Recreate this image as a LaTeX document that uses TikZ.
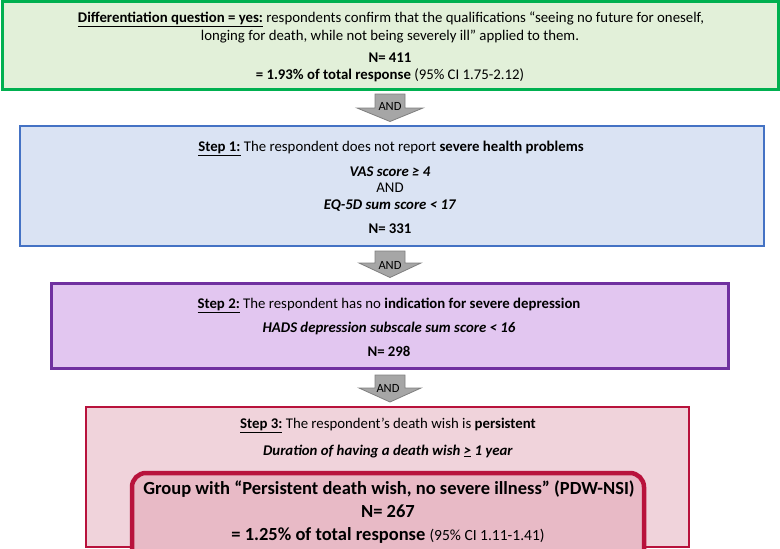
\documentclass[tikz,border=0pt]{standalone}
\usepackage{fontspec}
\setmainfont{Carlito}
\definecolor{gbord}{HTML}{00B050}
\definecolor{gfill}{HTML}{E2F0D9}
\definecolor{bbord}{HTML}{4472C4}
\definecolor{bfill}{HTML}{DAE3F3}
\definecolor{pbord}{HTML}{7030A0}
\definecolor{pfill}{HTML}{E2C6F0}
\definecolor{rbord}{HTML}{B8123C}
\definecolor{rfill}{HTML}{F0D3DB}
\definecolor{rinner}{HTML}{E8BAC6}
\definecolor{afill}{HTML}{A6A6A6}
\definecolor{abord}{HTML}{7F7F7F}
\tikzset{
  box/.style={draw, rectangle, inner sep=0pt},
  txt/.style={inner sep=0pt, anchor=base, font=\fontsize{14.8}{17}\selectfont},
  big/.style={inner sep=0pt, anchor=base, font=\fontsize{18.5}{21}\selectfont\bfseries},
  andtxt/.style={inner sep=0pt, anchor=base, font=\fontsize{12.5}{14}\selectfont},
  garrow/.style={fill=afill, draw=abord, line width=0.8pt, line join=miter},
}
\newcommand{\ul}[1]{\underline{#1}}
\begin{document}
\begin{tikzpicture}[x=1pt,y=-1pt]
\useasboundingbox (0,0) rectangle (780,549);
% boxes
\node[box, draw=gbord, fill=gfill, line width=3pt, minimum width=776pt, minimum height=88pt] (q) at (390,45.5) {};
\node[box, draw=bbord, fill=bfill, line width=2.5pt, minimum width=744pt, minimum height=120pt] (s1) at (392,186) {};
\node[box, draw=pbord, fill=pfill, line width=3pt, minimum width=677pt, minimum height=85pt] (s2) at (389.5,325.5) {};
\node[box, draw=rbord, fill=rfill, line width=2.5pt, minimum width=603pt, minimum height=140pt] (s3) at (387.5,477) {};
\draw[draw=rbord, fill=rinner, line width=4.5pt, rounded corners=14pt] (132,560) -- (132,473) -- (644,473) -- (644,560);
% arrows
\draw[garrow] (375,94) -- (405,94) -- (405,108) -- (423,108) -- (390,121.5) -- (357,108) -- (375,108) -- cycle;
\draw[garrow] (375,251) -- (405,251) -- (405,263) -- (421,263) -- (390,277.5) -- (359,263) -- (375,263) -- cycle;
\draw[garrow] (375,375) -- (405,375) -- (405,388) -- (421,388) -- (390,402) -- (359,388) -- (375,388) -- cycle;
\node[andtxt] (and1) at (390,110) {AND};
\node[andtxt] (and2) at (390,269.5) {AND};
\node[andtxt] (and3) at (388,392.5) {AND};
% box 1 text
\node[txt] (q1) at (391,22) {\textbf{\ul{Differentiation question = yes:}} respondents confirm that the qualifications “seeing no future for oneself,};
\node[txt] (q2) at (390,40) {longing for death, while not being severely ill” applied to them.};
\node[txt] (q3) at (390,62) {\textbf{N= 411}};
\node[txt] (q4) at (390,79) {\textbf{= 1.93\% of total response} (95\% CI 1.75-2.12)};
% step 1
\node[txt] (t1) at (391,151) {\textbf{\ul{Step 1:}} The respondent does not report \textbf{severe health problems}};
\node[txt] (t2) at (390,176) {\textbf{\itshape VAS score ≥ 4}};
\node[txt] (t3) at (390,192) {AND};
\node[txt] (t4) at (390,209) {\textbf{\itshape EQ-5D sum score < 17}};
\node[txt] (t5) at (390,233) {\textbf{N= 331}};
% step 2
\node[txt] (u1) at (389,308) {\textbf{\ul{Step 2:}} The respondent has no \textbf{indication for severe depression}};
\node[txt] (u2) at (389,332) {\textbf{\itshape HADS depression subscale sum score < 16}};
\node[txt] (u3) at (389,356) {\textbf{N= 298}};
% step 3
\node[txt] (v1) at (388,428) {\textbf{\ul{Step 3:}} The respondent’s death wish is \textbf{persistent}};
\node[txt] (v2) at (388,455) {\textbf{\itshape Duration of having a death wish \ul{>} 1 year}};
\node[big] (w1) at (389,494.5) {Group with “Persistent death wish, no severe illness” (PDW-NSI)};
\node[big] (w2) at (388,517.5) {N= 267};
\node[big] (w3) at (388,540) {= 1.25\% of total response {\mdseries\fontsize{15.5}{17}\selectfont (95\% CI 1.11-1.41)}};
\end{tikzpicture}
\end{document}
